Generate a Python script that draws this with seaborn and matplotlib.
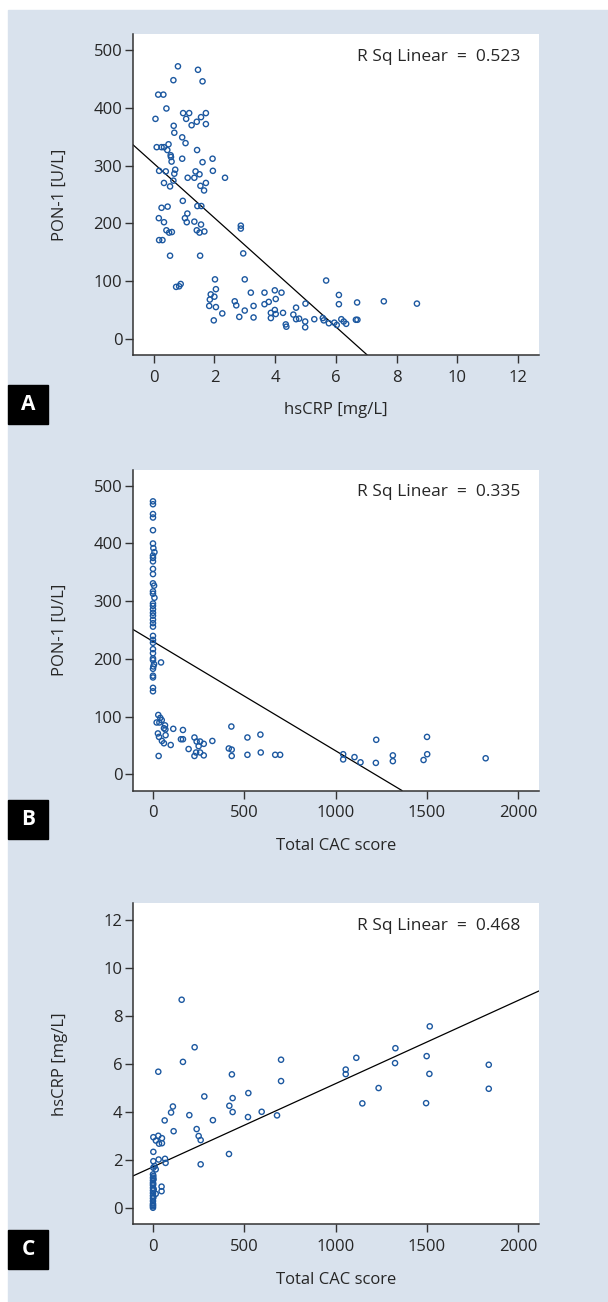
import numpy as np
import pandas as pd
import matplotlib
matplotlib.use("Agg")
import matplotlib.pyplot as plt
import seaborn as sns
from matplotlib.patches import Rectangle

# Panel A: hsCRP [mg/L] vs PON-1 [U/L]
crp_a = [0.80, 1.46, 0.65, 1.61, 0.15, 0.32, 0.42, 0.06, 0.97, 1.17, 1.07, 1.72, 1.56, 1.42,
         1.25, 1.72, 0.66, 0.68, 0.94, 1.05, 0.10, 0.26, 0.34, 0.49, 0.45, 0.56, 0.57, 0.59,
         0.94, 1.43, 1.94, 1.61, 0.18, 0.40, 0.71, 0.68, 1.38, 1.51, 1.12, 1.34, 1.95, 2.35,
         0.34, 0.65, 0.54, 1.54, 1.72, 1.66, 0.96, 1.44, 1.57, 0.26, 0.46, 0.17, 0.34, 1.11,
         1.03, 1.09, 1.34, 1.56, 0.42, 0.51, 0.60, 1.42, 1.51, 1.67, 0.18, 0.29, 2.87, 2.87,
         0.54, 1.53, 2.95, 0.74, 0.84, 0.89, 2.02, 3.00, 5.68, 2.05, 1.88, 2.00, 1.85, 1.83,
         2.05, 1.98, 2.26, 2.67, 2.72, 2.82, 3.00, 3.20, 3.29, 3.29, 3.65, 3.65, 3.79, 3.99,
         4.02, 4.21, 3.86, 3.86, 3.99, 4.02, 4.26, 4.35, 4.37, 4.60, 4.69, 4.69, 4.79, 4.99,
         4.99, 5.00, 5.29, 5.57, 5.60, 5.77, 5.95, 6.03, 6.10, 6.10, 6.18, 6.26, 6.34, 6.66,
         6.71, 6.70, 7.58, 8.67]
pon_a = [472, 466, 448, 446, 423, 423, 399, 381, 391, 391, 381, 391, 384, 376,
         370, 372, 369, 357, 349, 339, 332, 332, 332, 337, 327, 318, 315, 307,
         312, 327, 312, 306, 291, 290, 293, 286, 290, 285, 279, 279, 291, 279,
         270, 274, 264, 265, 270, 257, 239, 230, 230, 227, 229, 209, 202, 217,
         209, 202, 203, 198, 188, 184, 185, 188, 184, 186, 171, 171, 196, 191,
         144, 144, 148, 90, 91, 95, 103, 103, 101, 86, 77, 73, 68, 57,
         55, 32, 44, 65, 58, 38, 49, 80, 57, 37, 80, 60, 64, 84,
         69, 80, 45, 36, 50, 43, 45, 25, 21, 42, 54, 34, 35, 30,
         20, 61, 34, 36, 32, 27, 28, 24, 76, 60, 34, 30, 26, 33,
         33, 63, 65, 61]

# Panel B: Total CAC score vs PON-1 [U/L]
cac_b = [0, 0, 0, 0, 0, 0, 2, 8, 0, 0, 0, 0, 0, 0, 6, 0, 0, 8, 0, 0, 0, 0, 0, 0, 0, 0, 0,
         0, 0, 0, 0, 6, 2, 0, 44, 0, 0, 0, 0, 0, 0,
         29, 40, 48, 20, 35, 66, 60, 68, 111, 164, 27, 69, 33, 49, 60, 97, 153, 164, 31,
         195, 227, 239, 258, 250, 278, 236, 227, 258, 278, 325, 429, 415, 431, 431, 517,
         517, 588, 590, 669, 696, 1041, 1041, 1103, 1136, 1222, 1220, 1313, 1313, 1481,
         1500, 1501, 1821]
pon_b = [473, 468, 451, 445, 423, 400, 392, 385, 379, 375, 369, 356, 347, 331, 327, 317,
         313, 306, 292, 286, 280, 275, 268, 256, 240, 233, 228, 217, 210, 201, 198,
         191, 187, 183, 194, 171, 168, 150, 144, 262, 296,
         103, 98, 94, 90, 90, 85, 80, 78, 79, 77, 71, 68, 65, 58, 54, 51, 61, 61, 32,
         44, 64, 57, 57, 49, 53, 38, 32, 38, 33, 58, 83, 45, 43, 32, 64,
         34, 69, 38, 34, 34, 35, 26, 30, 21, 60, 20, 33, 23, 25,
         65, 35, 28]

# Panel C: Total CAC score vs hsCRP [mg/L]
cac_c = [157, 228, 164, 29, 281, 109, 99, 64, 113, 199, 239, 250, 261, 261, 328, 418,
         436, 432, 436, 416, 522, 520, 595, 679, 701, 701, 1055, 1055, 1113, 1146, 1235,
         1327, 1325, 1495, 1498, 1513, 1515, 1838, 1838,
         2, 29, 49, 33, 49, 16, 2, 2, 31, 66, 69, 9, 2, 15, 47, 47, 15,
         0, 0, 0, 0, 0, 0, 0, 0, 0, 0, 0, 0, 0, 0, 2, 3, 1, 4, 2, 0]
crp_c = [8.67, 6.69, 6.08, 5.67, 4.64, 4.22, 3.97, 3.64, 3.19, 3.86, 3.28, 2.99, 2.82, 1.81,
         3.65, 4.25, 4.57, 5.56, 3.99, 2.24, 4.78, 3.78, 4.00, 3.85, 6.17, 5.28, 5.76, 5.57,
         6.25, 4.35, 4.99, 6.65, 6.03, 4.36, 6.32, 5.58, 7.56, 5.96, 4.96,
         2.94, 3.00, 2.90, 2.67, 2.69, 2.80, 2.33, 1.94, 2.01, 2.04, 1.87, 1.74, 1.67, 1.60,
         0.88, 0.69, 0.58,
         1.39, 1.25, 1.14, 1.04, 0.94, 0.83, 0.72, 0.61, 0.50, 0.39, 0.28, 0.17, 0.06, 0.0,
         1.32, 1.19, 0.99, 0.77, 0.44, 0.11]

# fitted lines (intercept, slope) and R squared
fit_intercept = [304.0, 230.4, 1.705]
fit_slope = [-47.2, -0.1895, 0.00347]
r_sq = ["0.523", "0.335", "0.468"]
panel_letters = ["A", "B", "C"]
x_labels = ["hsCRP [mg/L]", "Total CAC score", "Total CAC score"]
y_labels = ["PON-1 [U/L]", "PON-1 [U/L]", "hsCRP [mg/L]"]

sns.set_style("white")
plt.rcParams['font.family'] = ['Open Sans', 'DejaVu Sans']

W, H = 608, 1302
fig = plt.figure(figsize=(W / 100, H / 100), dpi=100)
fig.patches.append(Rectangle((8 / W, 0), 600 / W, (H - 10) / H,
                             transform=fig.transFigure, color="#d9e2ed", zorder=-10))

text_col = "#262626"
dot_col = "#1c58a0"

panels = [
    (crp_a, pon_a, (-0.69, 12.69), (-28, 528), [0, 2, 4, 6, 8, 10, 12], [0, 100, 200, 300, 400, 500]),
    (cac_b, pon_b, (-111, 2113), (-28, 528), [0, 500, 1000, 1500, 2000], [0, 100, 200, 300, 400, 500]),
    (cac_c, crp_c, (-111, 2113), (-0.69, 12.69), [0, 500, 1000, 1500, 2000], [0, 2, 4, 6, 8, 10, 12]),
]
tops = [34, 469.6, 903.3]
box_tops = [385, 800, 1230]

for i, (xs, ys, xlim, ylim, xt, yt) in enumerate(panels):
    top = tops[i]
    ax = fig.add_axes([132.7 / W, 1 - (top + 321) / H, 406.3 / W, 321 / H])
    ax.set_facecolor("white")
    df = pd.DataFrame({"x": xs, "y": ys})
    sns.scatterplot(data=df, x="x", y="y", ax=ax, marker="o", s=14,
                    facecolor="none", edgecolor=dot_col, linewidth=1.0, zorder=3)
    ax.axline((0, fit_intercept[i]), slope=fit_slope[i], color="black", lw=0.9, zorder=2)
    ax.set_xlim(xlim)
    ax.set_ylim(ylim)
    ax.set_xticks(xt)
    ax.set_yticks(yt)
    for s in ["top", "right"]:
        ax.spines[s].set_visible(False)
    for s in ["left", "bottom"]:
        ax.spines[s].set_color("#333333")
        ax.spines[s].set_linewidth(1.1)
    ax.tick_params(axis="both", direction="out", length=5.5, width=1, color="#333333",
                   labelsize=12, labelcolor=text_col, left=True, bottom=True)
    ax.tick_params(axis="x", pad=5)
    ax.tick_params(axis="y", pad=2)
    ax.set_xlabel(x_labels[i], fontsize=12, color=text_col, va="center")
    ax.set_ylabel(y_labels[i], fontsize=12, color=text_col, va="center")
    ax.xaxis.set_label_coords(0.5, -55.5 / 321)
    ax.yaxis.set_label_coords(-72.7 / 406.3, 0.5)
    ax.text(0.953, 1 - 22.7 / 321, "R Sq Linear  =  " + r_sq[i], transform=ax.transAxes,
            ha="right", va="center", fontsize=12.5, color=text_col)

    # panel letter box
    bt = box_tops[i]
    fig.patches.append(Rectangle((8 / W, 1 - (bt + 39) / H), 40 / W, 39 / H,
                                 transform=fig.transFigure, color="black", zorder=5))
    fig.text(28 / W, 1 - (bt + 19.5) / H, panel_letters[i], color="white",
             fontsize=15, fontweight="bold", ha="center", va="center", zorder=6)

fig.savefig("out.png", dpi=100, facecolor="white")
